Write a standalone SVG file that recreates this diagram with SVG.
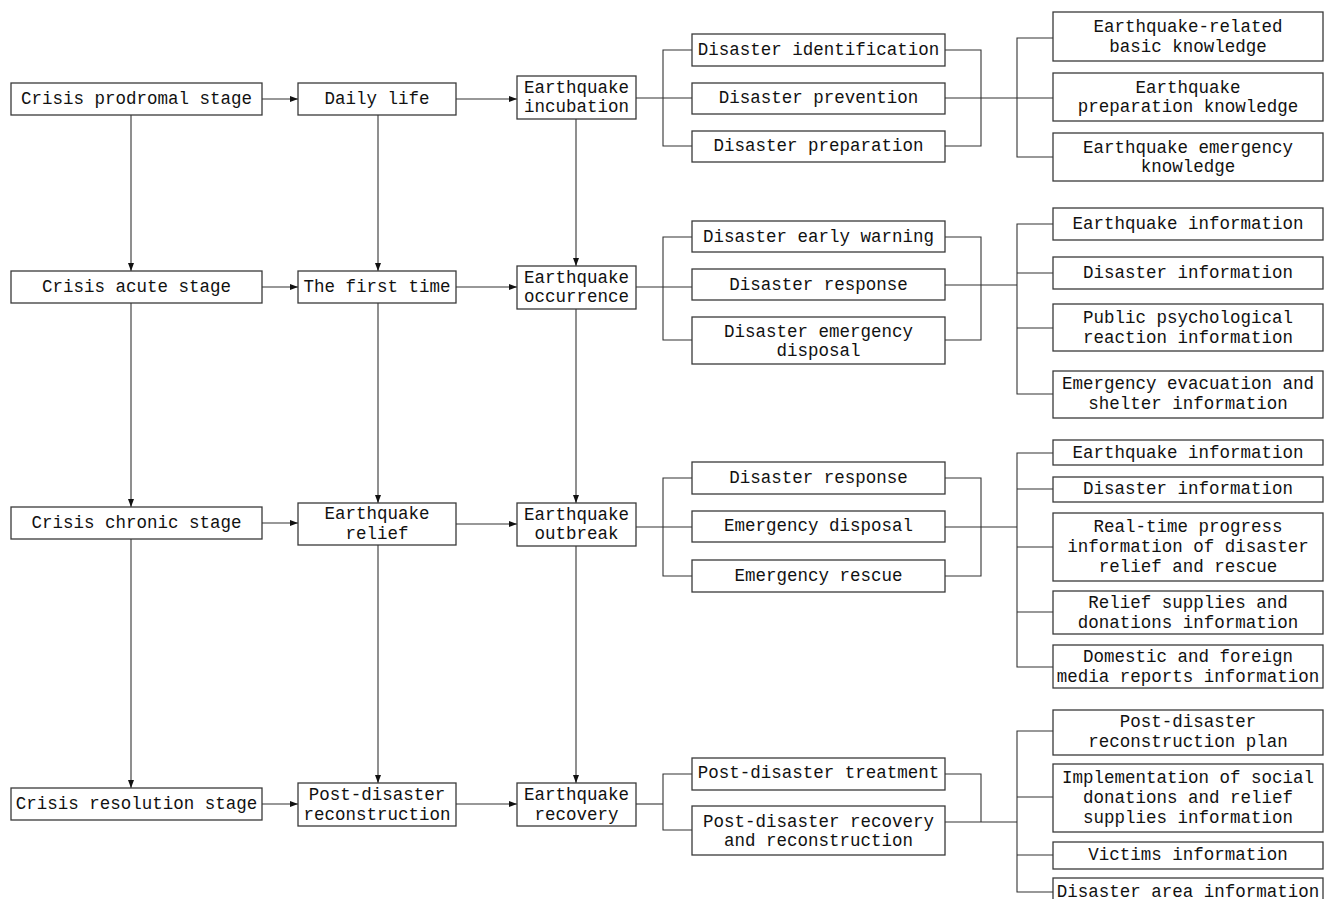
<svg xmlns="http://www.w3.org/2000/svg" width="1330" height="899" viewBox="0 0 1330 899">
<style>
rect{fill:#fff;stroke:#3a3a3a;stroke-width:1.3}
text{font-family:"Liberation Mono","DejaVu Sans Mono",monospace;font-size:18px;fill:#111;text-anchor:middle;dominant-baseline:central}
.c path{fill:none;stroke:#333;stroke-width:1.1}
.a path{marker-end:url(#ah)}
</style>
<defs>
<marker id="ah" markerUnits="userSpaceOnUse" markerWidth="9" markerHeight="7" refX="8" refY="3" orient="auto"><path d="M0,0 L8,3 L0,6 z" fill="#111" stroke="none"/></marker>
</defs>
<rect x="0" y="0" width="1330" height="899" style="stroke:none"/>
<g id="connectors" class="c">
<g class="a">
<path d="M131,115 V271"/><path d="M131,303 V507"/><path d="M131,539 V788"/>
<path d="M378,115 V271"/><path d="M378,303 V503"/><path d="M378,545 V783"/>
<path d="M576,119 V266"/><path d="M576,309 V503"/><path d="M576,546 V783"/>
<path d="M262,99 H298"/><path d="M262,287 H298"/><path d="M262,523 H298"/><path d="M262,804 H298"/>
<path d="M456,99 H517"/><path d="M456,287 H517"/><path d="M456,524 H517"/><path d="M456,804 H517"/>
</g>
<path d="M636,98 H692"/><path d="M692,50 H663 V146 H692"/><path d="M945,50 H981 V146 H945"/><path d="M945,98 H1053"/><path d="M1053,38 H1017 V157 H1053"/>
<path d="M636,287 H692"/><path d="M692,237 H663 V340 H692"/><path d="M945,237 H981 V340 H945"/><path d="M945,285 H1017"/><path d="M1053,224 H1017 V394 H1053"/><path d="M1017,273 H1053"/><path d="M1017,328 H1053"/>
<path d="M636,527 H692"/><path d="M692,478 H663 V576 H692"/><path d="M945,478 H981 V576 H945"/><path d="M945,527 H1017"/><path d="M1053,453 H1017 V667 H1053"/><path d="M1017,489 H1053"/><path d="M1017,547 H1053"/><path d="M1017,612 H1053"/>
<path d="M636,804 H663"/><path d="M692,774 H663 V830 H692"/><path d="M945,774 H981 V822"/><path d="M945,822 H1017"/><path d="M1053,731 H1017 V892 H1053"/><path d="M1017,797 H1053"/><path d="M1017,855 H1053"/>
</g>
<g id="n1"><rect x="11" y="83" width="251" height="32"/><text x="136.5" y="99" textLength="231" lengthAdjust="spacingAndGlyphs">Crisis prodromal stage</text></g>
<g id="n2"><rect x="298" y="83" width="158" height="32"/><text x="377" y="99" textLength="105" lengthAdjust="spacingAndGlyphs">Daily life</text></g>
<g id="n3"><rect x="517" y="76" width="119" height="43"/><text x="576.5" y="88" textLength="105" lengthAdjust="spacingAndGlyphs">Earthquake</text><text x="576.5" y="107" textLength="105" lengthAdjust="spacingAndGlyphs">incubation</text></g>
<g id="n4"><rect x="692" y="34" width="253" height="32"/><text x="818.5" y="50" textLength="241.5" lengthAdjust="spacingAndGlyphs">Disaster identification</text></g>
<g id="n5"><rect x="692" y="83" width="253" height="31"/><text x="818.5" y="98" textLength="199.5" lengthAdjust="spacingAndGlyphs">Disaster prevention</text></g>
<g id="n6"><rect x="692" y="131" width="253" height="31"/><text x="818.5" y="146" textLength="210" lengthAdjust="spacingAndGlyphs">Disaster preparation</text></g>
<g id="n7"><rect x="1053" y="12" width="270" height="49"/><text x="1188" y="27" textLength="189" lengthAdjust="spacingAndGlyphs">Earthquake-related</text><text x="1188" y="47" textLength="157.5" lengthAdjust="spacingAndGlyphs">basic knowledge</text></g>
<g id="n8"><rect x="1053" y="73" width="270" height="48"/><text x="1188" y="88" textLength="105" lengthAdjust="spacingAndGlyphs">Earthquake</text><text x="1188" y="107" textLength="220.5" lengthAdjust="spacingAndGlyphs">preparation knowledge</text></g>
<g id="n9"><rect x="1053" y="133" width="270" height="48"/><text x="1188" y="148" textLength="210" lengthAdjust="spacingAndGlyphs">Earthquake emergency</text><text x="1188" y="167" textLength="94.5" lengthAdjust="spacingAndGlyphs">knowledge</text></g>
<g id="n10"><rect x="11" y="271" width="251" height="32"/><text x="136.5" y="287" textLength="189" lengthAdjust="spacingAndGlyphs">Crisis acute stage</text></g>
<g id="n11"><rect x="298" y="271" width="158" height="32"/><text x="377" y="287" textLength="147" lengthAdjust="spacingAndGlyphs">The first time</text></g>
<g id="n12"><rect x="517" y="266" width="119" height="43"/><text x="576.5" y="278" textLength="105" lengthAdjust="spacingAndGlyphs">Earthquake</text><text x="576.5" y="297" textLength="105" lengthAdjust="spacingAndGlyphs">occurrence</text></g>
<g id="n13"><rect x="692" y="221" width="253" height="31"/><text x="818.5" y="237" textLength="231" lengthAdjust="spacingAndGlyphs">Disaster early warning</text></g>
<g id="n14"><rect x="692" y="269" width="253" height="31"/><text x="818.5" y="285" textLength="178.5" lengthAdjust="spacingAndGlyphs">Disaster response</text></g>
<g id="n15"><rect x="692" y="317" width="253" height="47"/><text x="818.5" y="332" textLength="189" lengthAdjust="spacingAndGlyphs">Disaster emergency</text><text x="818.5" y="351" textLength="84" lengthAdjust="spacingAndGlyphs">disposal</text></g>
<g id="n16"><rect x="1053" y="208" width="270" height="32"/><text x="1188" y="224" textLength="231" lengthAdjust="spacingAndGlyphs">Earthquake information</text></g>
<g id="n17"><rect x="1053" y="257" width="270" height="32"/><text x="1188" y="273" textLength="210" lengthAdjust="spacingAndGlyphs">Disaster information</text></g>
<g id="n18"><rect x="1053" y="304" width="270" height="47"/><text x="1188" y="318" textLength="210" lengthAdjust="spacingAndGlyphs">Public psychological</text><text x="1188" y="338" textLength="210" lengthAdjust="spacingAndGlyphs">reaction information</text></g>
<g id="n19"><rect x="1053" y="371" width="270" height="47"/><text x="1188" y="384" textLength="252" lengthAdjust="spacingAndGlyphs">Emergency evacuation and</text><text x="1188" y="404" textLength="199.5" lengthAdjust="spacingAndGlyphs">shelter information</text></g>
<g id="n20"><rect x="11" y="507" width="251" height="32"/><text x="136.5" y="523" textLength="210" lengthAdjust="spacingAndGlyphs">Crisis chronic stage</text></g>
<g id="n21"><rect x="298" y="503" width="158" height="42"/><text x="377" y="514" textLength="105" lengthAdjust="spacingAndGlyphs">Earthquake</text><text x="377" y="534" textLength="63" lengthAdjust="spacingAndGlyphs">relief</text></g>
<g id="n22"><rect x="517" y="503" width="119" height="43"/><text x="576.5" y="515" textLength="105" lengthAdjust="spacingAndGlyphs">Earthquake</text><text x="576.5" y="534" textLength="84" lengthAdjust="spacingAndGlyphs">outbreak</text></g>
<g id="n23"><rect x="692" y="462" width="253" height="32"/><text x="818.5" y="478" textLength="178.5" lengthAdjust="spacingAndGlyphs">Disaster response</text></g>
<g id="n24"><rect x="692" y="511" width="253" height="31"/><text x="818.5" y="526" textLength="189" lengthAdjust="spacingAndGlyphs">Emergency disposal</text></g>
<g id="n25"><rect x="692" y="560" width="253" height="32"/><text x="818.5" y="576" textLength="168" lengthAdjust="spacingAndGlyphs">Emergency rescue</text></g>
<g id="n26"><rect x="1053" y="440" width="270" height="25"/><text x="1188" y="453" textLength="231" lengthAdjust="spacingAndGlyphs">Earthquake information</text></g>
<g id="n27"><rect x="1053" y="477" width="270" height="25"/><text x="1188" y="489" textLength="210" lengthAdjust="spacingAndGlyphs">Disaster information</text></g>
<g id="n28"><rect x="1053" y="513" width="270" height="68"/><text x="1188" y="527" textLength="189" lengthAdjust="spacingAndGlyphs">Real-time progress</text><text x="1188" y="547" textLength="241.5" lengthAdjust="spacingAndGlyphs">information of disaster</text><text x="1188" y="567" textLength="178.5" lengthAdjust="spacingAndGlyphs">relief and rescue</text></g>
<g id="n29"><rect x="1053" y="591" width="270" height="43"/><text x="1188" y="603" textLength="199.5" lengthAdjust="spacingAndGlyphs">Relief supplies and</text><text x="1188" y="623" textLength="220.5" lengthAdjust="spacingAndGlyphs">donations information</text></g>
<g id="n30"><rect x="1053" y="645" width="270" height="43"/><text x="1188" y="657" textLength="210" lengthAdjust="spacingAndGlyphs">Domestic and foreign</text><text x="1188" y="677" textLength="262.5" lengthAdjust="spacingAndGlyphs">media reports information</text></g>
<g id="n31"><rect x="11" y="788" width="251" height="32"/><text x="136.5" y="804" textLength="241.5" lengthAdjust="spacingAndGlyphs">Crisis resolution stage</text></g>
<g id="n32"><rect x="298" y="783" width="158" height="43"/><text x="377" y="795" textLength="136.5" lengthAdjust="spacingAndGlyphs">Post-disaster</text><text x="377" y="815" textLength="147" lengthAdjust="spacingAndGlyphs">reconstruction</text></g>
<g id="n33"><rect x="517" y="783" width="119" height="43"/><text x="576.5" y="795" textLength="105" lengthAdjust="spacingAndGlyphs">Earthquake</text><text x="576.5" y="815" textLength="84" lengthAdjust="spacingAndGlyphs">recovery</text></g>
<g id="n34"><rect x="692" y="758" width="253" height="32"/><text x="818.5" y="773" textLength="241.5" lengthAdjust="spacingAndGlyphs">Post-disaster treatment</text></g>
<g id="n35"><rect x="692" y="806" width="253" height="49"/><text x="818.5" y="822" textLength="231" lengthAdjust="spacingAndGlyphs">Post-disaster recovery</text><text x="818.5" y="841" textLength="189" lengthAdjust="spacingAndGlyphs">and reconstruction</text></g>
<g id="n36"><rect x="1053" y="710" width="270" height="45"/><text x="1188" y="722" textLength="136.5" lengthAdjust="spacingAndGlyphs">Post-disaster</text><text x="1188" y="742" textLength="199.5" lengthAdjust="spacingAndGlyphs">reconstruction plan</text></g>
<g id="n37"><rect x="1053" y="764" width="270" height="68"/><text x="1188" y="778" textLength="252" lengthAdjust="spacingAndGlyphs">Implementation of social</text><text x="1188" y="798" textLength="210" lengthAdjust="spacingAndGlyphs">donations and relief</text><text x="1188" y="818" textLength="210" lengthAdjust="spacingAndGlyphs">supplies information</text></g>
<g id="n38"><rect x="1053" y="842" width="270" height="27"/><text x="1188" y="855" textLength="199.5" lengthAdjust="spacingAndGlyphs">Victims information</text></g>
<g id="n39"><rect x="1053" y="878" width="270" height="26"/><text x="1188" y="892" textLength="262.5" lengthAdjust="spacingAndGlyphs">Disaster area information</text></g>
</svg>
